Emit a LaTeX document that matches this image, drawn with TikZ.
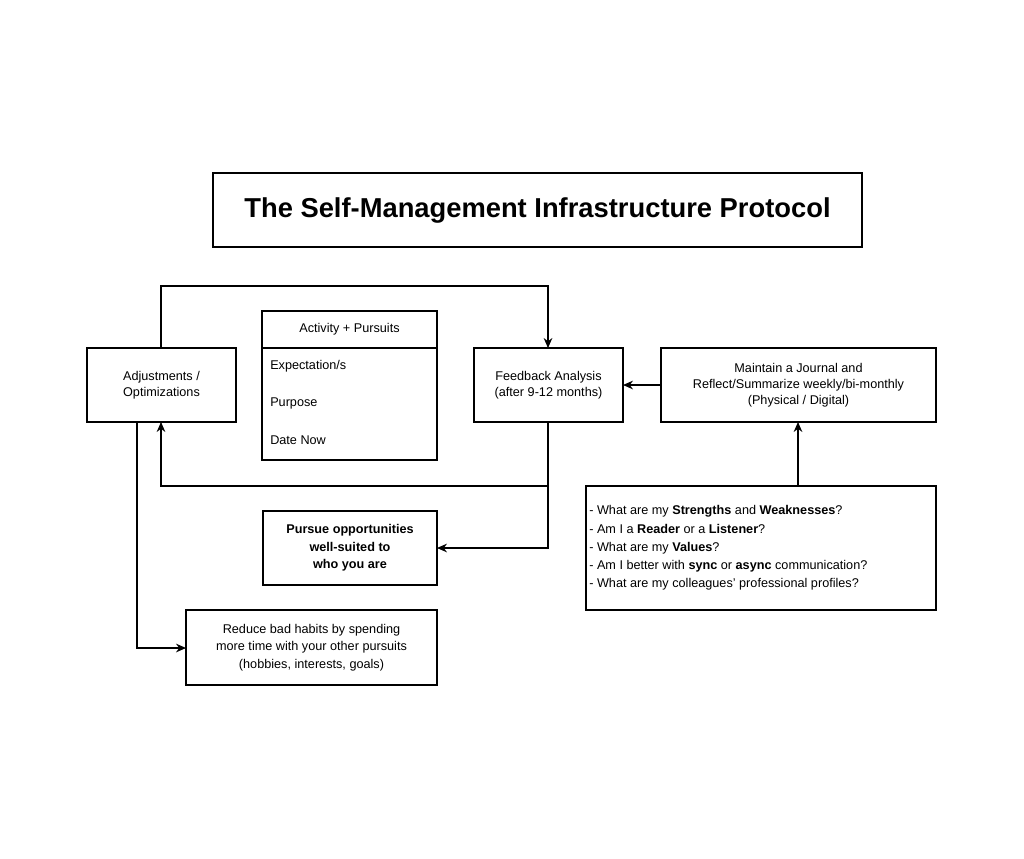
\documentclass[tikz,border=0pt]{standalone}
\usepackage{fontspec}
\setmainfont{Liberation Sans}
\usetikzlibrary{arrows.meta}
\begin{document}
\begin{tikzpicture}[x=0.75pt,y=-0.75pt,
  box/.style={draw,line width=0.8pt,align=center,font=\fontsize{9.5}{12}\selectfont},
  arr/.style={draw,line width=0.8pt,-{Stealth[length=7.5pt,width=6.5pt]}},
  item/.style={anchor=west,font=\fontsize{9.5}{12}\selectfont,inner sep=0}]
\useasboundingbox[fill=white] (0,0) rectangle (1024,858);
\draw[line width=0.8pt] (213,173) rectangle (862,247);
\node[font=\fontsize{20.5}{24}\selectfont\bfseries] (title) at (537.5,210) {The Self-Management Infrastructure Protocol};
\draw[line width=0.8pt] (87,348) rectangle (236,422);
\node[box,draw=none] (adj) at (161.5,385) {Adjustments /\\Optimizations};
\coordinate (adjT) at (161,348); \coordinate (adjB) at (161,422); \coordinate (adjB2) at (137,422);
\draw[line width=0.8pt] (262,311) rectangle (437,460);
\draw[line width=0.8pt] (262,348) -- (437,348);
\node[box,draw=none] (act) at (349.5,329) {Activity + Pursuits};
\node[item] (e) at (270,366) {Expectation/s};
\node[item] (p) at (270,403) {Purpose};
\node[item] (d) at (270,440) {Date Now};
\draw[line width=0.8pt] (474,348) rectangle (623,422);
\node[box,draw=none] (fb) at (548.5,385) {Feedback Analysis\\(after 9-12 months)};
\coordinate (fbT) at (548,348); \coordinate (fbB) at (548,422); \coordinate (fbR) at (623,385);
\draw[line width=0.8pt] (661,348) rectangle (936,422);
\node[box,draw=none] (jr) at (798.5,385) {Maintain a Journal and\\Reflect/Summarize weekly/bi-monthly\\(Physical / Digital)};
\coordinate (jrL) at (661,385); \coordinate (jrB) at (798,422);
\draw[line width=0.8pt] (586,486) rectangle (936,610);
\node[item,align=left,font=\fontsize{9.5}{13.7}\selectfont] (q) at (589,548) {- What are my \textbf{Strengths} and \textbf{Weaknesses}?\\- Am I a \textbf{Reader} or a \textbf{Listener}?\\- What are my \textbf{Values}?\\- Am I better with \textbf{sync} or \textbf{async} communication?\\- What are my colleagues' professional profiles?};
\coordinate (qT) at (798,486);
\draw[line width=0.8pt] (263,511) rectangle (437,585);
\node[box,draw=none,font=\fontsize{9.5}{13}\selectfont\bfseries] (pu) at (350,548) {Pursue opportunities\\well-suited to\\who you are};
\coordinate (puR) at (437,548);
\draw[line width=0.8pt] (186,610) rectangle (437,685);
\node[box,draw=none,font=\fontsize{9.5}{13}\selectfont] (rd) at (311.5,647.5) {Reduce bad habits by spending\\more time with your other pursuits\\(hobbies, interests, goals)};
\coordinate (rdL) at (186,648);
\draw[arr] (adjT) -- (161,286) -- (548,286) -- (fbT);
\draw[arr] (fbB) -- (548,486) -- (161,486) -- (adjB);
\draw[arr] (548,486) -- (548,548) -- (puR);
\draw[arr] (jrL) -- (fbR);
\draw[arr] (qT) -- (jrB);
\draw[arr] (adjB2) -- (137,648) -- (rdL);
\end{tikzpicture}
\end{document}
